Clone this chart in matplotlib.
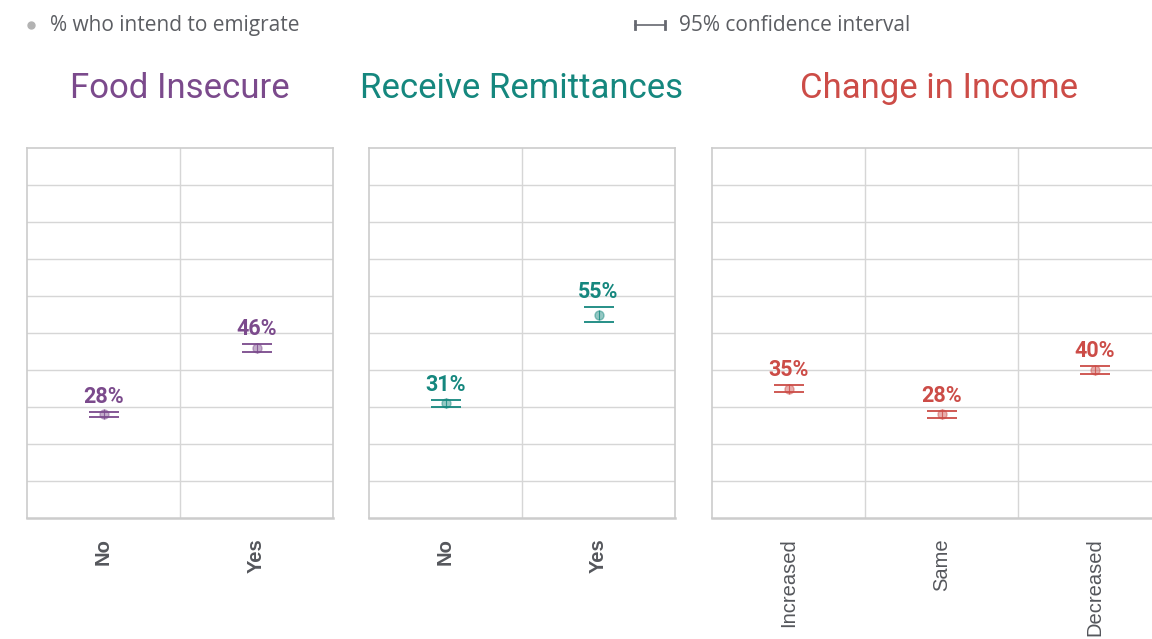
import matplotlib
matplotlib.use("Agg")
import matplotlib.pyplot as plt
from matplotlib.lines import Line2D
import numpy as np

# Share of respondents who intend to emigrate, by group, with 95% CI bounds
food_categories = ["No", "Yes"]
food_values = [28, 46]
food_low = [27.4, 45.0]
food_high = [28.6, 47.0]

remit_categories = ["No", "Yes"]
remit_values = [31, 55]
remit_low = [30.0, 52.9]
remit_high = [32.0, 57.1]

income_categories = ["Increased", "Same", "Decreased"]
income_values = [35, 28, 40]
income_low = [34.0, 27.1, 38.9]
income_high = [36.0, 28.9, 41.1]

panel_titles = ["Food Insecure", "Receive Remittances", "Change in Income"]
legend_point_label = "% who intend to emigrate"
legend_ci_label = "95% confidence interval"

PURPLE = "#7b4a8c"
TEAL = "#15877e"
RED = "#cc4c47"
GRID = "#d6d6d6"
FRAME = "#cccccc"
TEXT_GRAY = "#5c5e63"
TICK_GRAY = "#55575c"

W, H = 1152, 639
fig = plt.figure(figsize=(W / 100, H / 100), dpi=100)
fig.patch.set_facecolor("white")


def px_rect(left, top, right, bottom):
    return [left / W, 1 - bottom / H, (right - left) / W, (bottom - top) / H]


panels = [
    dict(rect=px_rect(27, 148, 333, 518), cats=food_categories, vals=food_values,
         lo=food_low, hi=food_high, color=PURPLE, title=panel_titles[0],
         tick_weight="bold", title_x=0.5),
    dict(rect=px_rect(369, 148, 675, 518), cats=remit_categories, vals=remit_values,
         lo=remit_low, hi=remit_high, color=TEAL, title=panel_titles[1],
         tick_weight="bold", title_x=0.5),
    dict(rect=px_rect(712, 148, 1171, 518), cats=income_categories, vals=income_values,
         lo=income_low, hi=income_high, color=RED, title=panel_titles[2],
         tick_weight="normal", title_x=0.494),
]

for p in panels:
    ax = fig.add_axes(p["rect"])
    n = len(p["cats"])
    x = np.arange(n)
    vals = np.array(p["vals"], dtype=float)
    lo = np.array(p["lo"], dtype=float)
    hi = np.array(p["hi"], dtype=float)

    ax.set_xlim(-0.5, n - 0.5)
    ax.set_ylim(0, 100)

    # grid: horizontal every 10%, vertical separators between categories
    for yv in np.arange(10, 100, 10):
        ax.axhline(yv, color=GRID, lw=1.0, zorder=0)
    for xv in np.arange(0.5, n - 0.5, 1):
        ax.axvline(xv, color=GRID, lw=1.0, zorder=0)

    for s in ax.spines.values():
        s.set_color(FRAME)
        s.set_linewidth(1.2)
    ax.spines["bottom"].set_linewidth(1.8)

    # confidence interval caps
    eb = ax.errorbar(x, vals, yerr=[vals - lo, hi - vals], fmt="none",
                     ecolor=p["color"], capsize=10.8, capthick=1.3, zorder=3)
    for bl in eb[2]:
        bl.set_visible(False)

    # point estimate
    ax.plot(x, vals, "o", ms=6.5, mfc=p["color"], mec=p["color"], alpha=0.45,
            mew=1.0, zorder=4)
    ax.plot(x, vals, "|", ms=6.5, mec=p["color"], mew=0.8, alpha=0.8, zorder=5)

    for xi, v, h in zip(x, vals, hi):
        ax.annotate(f"{v:.0f}%", (xi, h), xytext=(0, 6.5), textcoords="offset points",
                    ha="center", va="baseline", fontsize=15.5, fontweight="bold",
                    color=p["color"], family="Roboto", zorder=6)

    ax.set_yticks([])
    ax.set_xticks(x)
    ax.set_xticklabels(p["cats"], rotation=90, fontsize=14.5, family="Liberation Sans",
                       fontweight=p["tick_weight"], color=TICK_GRAY)
    ax.tick_params(axis="x", length=0, pad=14.5)
    ax.set_title(p["title"], fontsize=25, family="Roboto", color=p["color"],
                 pad=36, x=p["title_x"])

# legend row
fig.add_artist(Line2D([31 / W], [1 - 25 / H], marker="o", ms=5, color="#b3b3b3",
                      lw=0, transform=fig.transFigure))
fig.text(50 / W, 1 - 25.5 / H, legend_point_label, fontsize=15, family="Open Sans",
         color=TEXT_GRAY, va="center", ha="left")

ci_y = 1 - 25 / H
fig.add_artist(Line2D([635 / W, 665 / W], [ci_y, ci_y], color="#666870", lw=1.2,
                      transform=fig.transFigure))
for cx in (635, 665):
    fig.add_artist(Line2D([cx / W, cx / W], [ci_y - 4 / H, ci_y + 4 / H],
                          color="#666870", lw=2.0, transform=fig.transFigure))
fig.text(679 / W, 1 - 25.5 / H, legend_ci_label, fontsize=15, family="Open Sans",
         color=TEXT_GRAY, va="center", ha="left")

fig.savefig("out.png", dpi=100, facecolor="white")
